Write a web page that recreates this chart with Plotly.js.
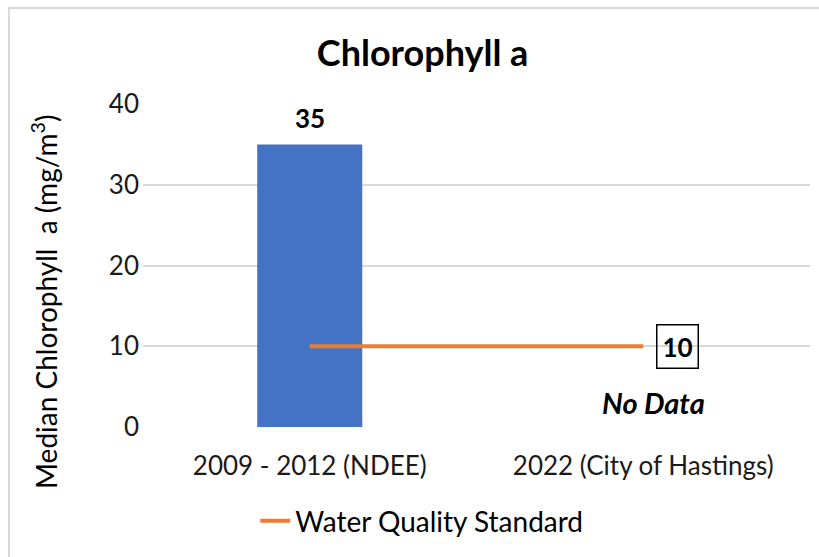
<!DOCTYPE html>
<html>
<head>
<meta charset="utf-8">
<script src="https://cdn.plot.ly/plotly-3.0.1.min.js"></script>
<style>
  body { margin: 0; background: #fff; }
  #frame { position: absolute; left: 8px; top: 7px; width: 830px; height: 570px;
           border-left: 2px solid #d9d9d9; border-top: 2px solid #d9d9d9; }
  #chart { position: absolute; left: 0; top: 0; width: 819px; height: 557px; }
</style>
</head>
<body>
<div id="frame"></div>
<div id="chart"></div>
<script>
// chart values
let periods = ["2009 - 2012 (NDEE)", "2022 (City of Hastings)"];
let medianChl = [35, null];
let standard = [10, 10];

let font = "Lato, 'Open Sans', sans-serif";

let bars = {
  x: periods,
  y: medianChl,
  type: "bar",
  width: 0.315,
  marker: {color: "#4472c4"},
  showlegend: false,
  hoverinfo: "skip"
};

let line = {
  x: periods,
  y: standard,
  type: "scatter",
  mode: "lines",
  name: "Water Quality Standard",
  line: {color: "#ed7d31", width: 4}
};

var data = [bars, line];

var layout = {
  width: 819,
  height: 557,
  margin: {l: 143, r: 9, t: 104, b: 130},
  paper_bgcolor: "rgba(0,0,0,0)",
  plot_bgcolor: "rgba(0,0,0,0)",
  font: {family: font, color: "#1a1a1a", size: 26},
  title: {text: "<b>Chlorophyll a</b>", font: {size: 36, color: "#000"}, x: 0.516, xanchor: "center", y: 0.905, yanchor: "middle"},
  xaxis: {showgrid: false, zeroline: false, showline: false, ticks: "", tickfont: {size: 26}, ticklabelstandoff: 21},
  yaxis: {range: [0, 40], dtick: 10, gridcolor: "#d9d9d9", gridwidth: 1.5, zeroline: false,
          showline: false, ticks: "", tickfont: {size: 26}, ticklabelstandoff: 3},
  showlegend: true,
  legend: {orientation: "h", x: 0.418, xanchor: "center", y: -0.291, yanchor: "middle", font: {size: 28, color: "#000"}},
  annotations: [
    {text: "<b>" + medianChl[0] + "</b>", x: periods[0], y: medianChl[0], yanchor: "bottom", yshift: 8,
     showarrow: false, font: {size: 26, color: "#000"}},
    {text: "Median Chlorophyll  a (mg/m<sup>3</sup>)", textangle: -90, xref: "paper", yref: "paper",
     x: -0.147, y: 0.387, xanchor: "center", yanchor: "middle", showarrow: false, font: {size: 28, color: "#000"}},
    {text: "<b>" + standard[1] + "</b>", x: periods[1], y: standard[1], xshift: 34, showarrow: false,
     bordercolor: "#000", borderwidth: 1.5, borderpad: 5, font: {size: 26, color: "#000"}},
    {text: "<b><i>No Data</i></b>", x: periods[1], y: 3, xshift: 10, showarrow: false,
     font: {size: 29, color: "#000"}}
  ]
};

Plotly.newPlot("chart", data, layout, {displayModeBar: false});
</script>
</body>
</html>
